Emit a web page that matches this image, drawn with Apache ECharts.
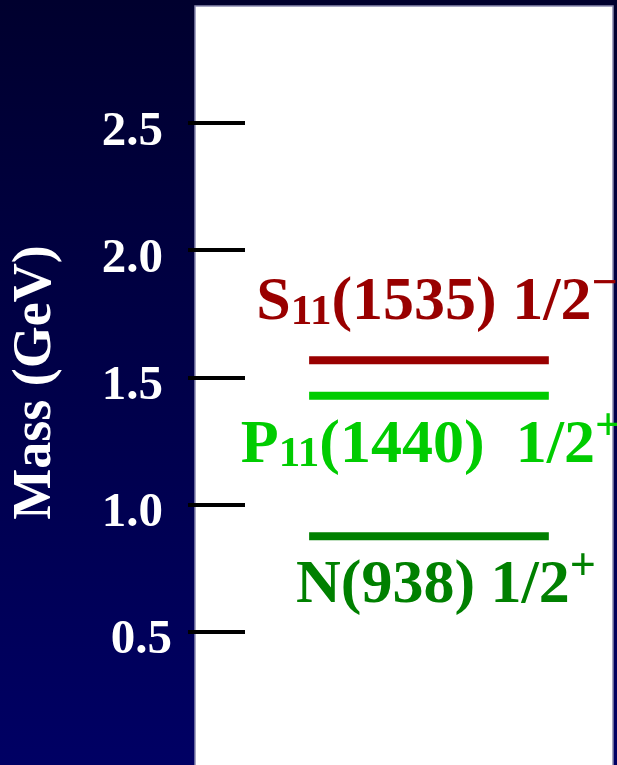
<!DOCTYPE html>
<html><head><meta charset="utf-8">
<script src="https://cdn.jsdelivr.net/npm/echarts@6/dist/echarts.min.js"></script>
<style>html,body{margin:0;padding:0;background:#000040;overflow:hidden}#c{width:617px;height:765px}</style>
</head><body><div id="c"></div>
<script>
// ---- data ----
const stateSymbol = ['N', 'P', 'S'];
const stateSub = ['', '11', '11'];
const stateMassLabel = ['(938)', '(1440)', '(1535)'];
const stateSpin = ['1/2', '1/2', '1/2'];
const stateParity = ['+', '+', '\u2212'];
const stateMass = [0.876, 1.428, 1.567];   // GeV, as drawn
const tickValues = [0.5, 1.0, 1.5, 2.0, 2.5];
const axisTitle = 'Mass (GeV)';

// ---- styles ----
const stateColors = ['#008000', '#00cc00', '#990000'];
const labelPos = ['bottom', 'bottom', 'top'];
const labelDist = [9, 9, 26];
const labelOffX = [17, 2, 8];
const spacer = [' ', '  ', ' '];
const lineX0 = 0.285, lineX1 = 0.849, lineXm = 0.567;
const serif = '"Liberation Serif", "Times New Roman", serif';

const chart = echarts.init(document.getElementById('c'), null, {renderer: 'canvas'});

function richFor(color) {
  return {
    m: {fontSize: 62, fontWeight: 'bold', fontFamily: serif, color: color, lineHeight: 72, verticalAlign: 'bottom'},
    s: {fontSize: 43, fontWeight: 'bold', fontFamily: serif, color: color, lineHeight: 4, verticalAlign: 'bottom'},
    p: {fontSize: 46, fontWeight: 'bold', fontFamily: serif, color: color, lineHeight: 40, verticalAlign: 'top'}
  };
}

const series = stateMass.map((m, i) => {
  let txt = '{m|' + stateSymbol[i] + '}';
  if (stateSub[i]) txt += '{s|' + stateSub[i] + '}';
  txt += '{m|' + stateMassLabel[i] + spacer[i] + stateSpin[i] + '}{p|' + stateParity[i] + '}';
  return {
    type: 'line',
    silent: true,
    animation: false,
    symbol: 'circle',
    symbolSize: 0,
    showSymbol: true,
    lineStyle: {width: 8, color: stateColors[i], cap: 'butt'},
    itemStyle: {color: stateColors[i]},
    data: [
      [lineX0, m],
      {value: [lineXm, m], label: {
        show: true, position: labelPos[i], distance: labelDist[i], offset: [labelOffX[i], 0],
        formatter: txt, rich: richFor(stateColors[i])
      }},
      [lineX1, m]
    ]
  };
});

chart.setOption({
  animation: false,
  backgroundColor: {type: 'linear', x: 0, y: 0, x2: 0, y2: 1,
    colorStops: [{offset: 0, color: '#00002e'}, {offset: 1, color: '#000064'}]},
  graphic: [{
    type: 'rect', z: -10, silent: true,
    shape: {x: 195, y: 6, width: 418, height: 780},
    style: {fill: '#ffffff', stroke: '#8a8ab0', lineWidth: 1.5}
  }],
  grid: {left: 188, right: 4, top: 6, bottom: 6, outerBoundsMode: 'none', containLabel: false},
  xAxis: {type: 'value', min: 0, max: 1, show: false},
  yAxis: {
    type: 'value', min: 0, max: 2.96,
    splitLine: {show: false},
    axisLine: {show: false},
    axisTick: {show: true, inside: true, length: 57, lineStyle: {color: '#000', width: 4}, customValues: tickValues},
    axisLabel: {
      customValues: tickValues, margin: 16,
      formatter: v => v === 0.5 ? '{b|0.5}' : '{a|' + v.toFixed(1) + '}',
      rich: {
        a: {fontSize: 49, fontWeight: 'bold', fontFamily: serif, color: '#fff', padding: [18, 9, 0, 0]},
        b: {fontSize: 49, fontWeight: 'bold', fontFamily: serif, color: '#fff', padding: [18, 0, 0, 0]}
      }
    },
    name: axisTitle, nameLocation: 'middle', nameRotate: 90, nameGap: 125,
    nameTextStyle: {fontSize: 54, fontWeight: 'bold', fontFamily: serif, color: '#fff'}
  },
  series: series
});
</script></body></html>
